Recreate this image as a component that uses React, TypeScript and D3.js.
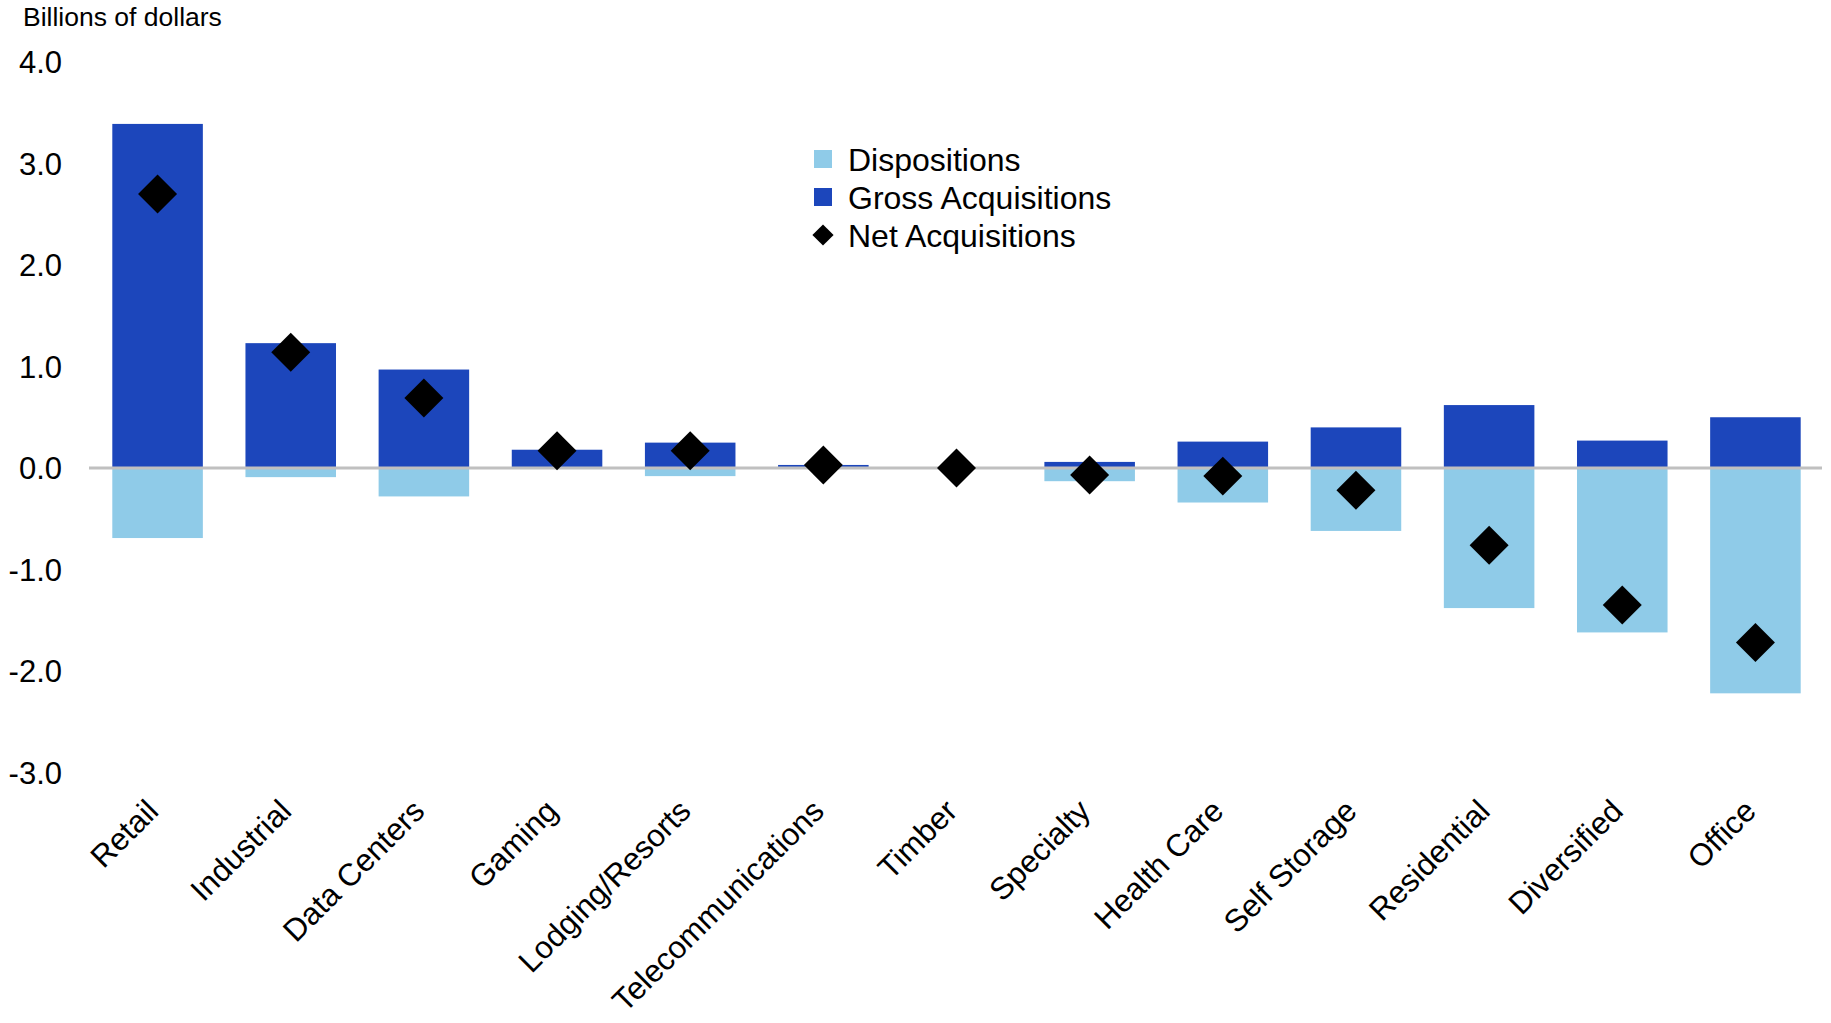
import React from "react";
import * as d3 from "d3";

const categories = ["Retail", "Industrial", "Data Centers", "Gaming", "Lodging/Resorts", "Telecommunications", "Timber", "Specialty", "Health Care", "Self Storage", "Residential", "Diversified", "Office"];
const grossAcquisitions = [3.39, 1.23, 0.97, 0.18, 0.25, 0.03, 0.0, 0.06, 0.26, 0.40, 0.62, 0.27, 0.50];
const dispositions = [-0.69, -0.09, -0.28, -0.01, -0.08, 0.0, 0.0, -0.13, -0.34, -0.62, -1.38, -1.62, -2.22];
const netAcquisitions = [2.70, 1.14, 0.69, 0.17, 0.17, 0.03, 0.0, -0.07, -0.08, -0.22, -0.76, -1.35, -1.72];
const yTicks = [4, 3, 2, 1, 0, -1, -2, -3];
const legendItems = ["Dispositions", "Gross Acquisitions", "Net Acquisitions"];

const DARK = "#1c46bb";
const LIGHT = "#8fcbe8";
const FONT = "'Liberation Sans', Arial, Helvetica, sans-serif";

export default function App() {
  const W = 1831, H = 1023;
  const x = d3.scaleBand<string>().domain(categories).range([91, 1822]).paddingInner(0.32).paddingOuter(0.16);
  const y = d3.scaleLinear().domain([-3, 4]).range([772.5, 62]);
  const bw = x.bandwidth();
  const diamond = d3.symbol().type(d3.symbolSquare).size(760)();
  const legendDiamond = d3.symbol().type(d3.symbolSquare).size(225)();
  const legendColors = [LIGHT, DARK, "#000"];

  return (
    <svg width={W} height={H} style={{ position: "absolute", left: 0, top: 0, background: "#fff" }} fontFamily={FONT}>
      <text x={23} y={26} fontSize={26.5} fill="#000">Billions of dollars</text>
      {yTicks.map((t) => (
        <text key={t} x={62} y={y(t)} dy="0.36em" fontSize={31} textAnchor="end" fill="#000">{t.toFixed(1)}</text>
      ))}
      {categories.map((c, i) => (
        <g key={c}>
          <rect x={x(c)} width={bw} y={y(Math.max(0, grossAcquisitions[i]))} height={Math.abs(y(grossAcquisitions[i]) - y(0))} fill={DARK} />
          <rect x={x(c)} width={bw} y={y(0)} height={Math.abs(y(dispositions[i]) - y(0))} fill={LIGHT} />
        </g>
      ))}
      <line x1={89} x2={1822} y1={y(0)} y2={y(0)} stroke="#c0c0c0" strokeWidth={3} />
      {categories.map((c, i) => (
        <path key={c} d={diamond!} transform={`translate(${x(c)! + bw / 2},${y(netAcquisitions[i])}) rotate(45)`} fill="#000" />
      ))}
      {categories.map((c) => (
        <text key={c} transform={`translate(${x(c)! + bw / 2 + 2.5},813) rotate(-45)`} fontSize={31.3} textAnchor="end" fill="#000">{c}</text>
      ))}
      {legendItems.map((l, i) => {
        const cy = 159 + i * 38;
        return (
          <g key={l}>
            {i < 2 ? (
              <rect x={814} y={cy - 9} width={18} height={18} fill={legendColors[i]} />
            ) : (
              <path d={legendDiamond!} transform={`translate(823,${cy}) rotate(45)`} fill="#000" />
            )}
            <text x={848} y={cy} dy="0.36em" fontSize={32} fill="#000">{l}</text>
          </g>
        );
      })}
    </svg>
  );
}
